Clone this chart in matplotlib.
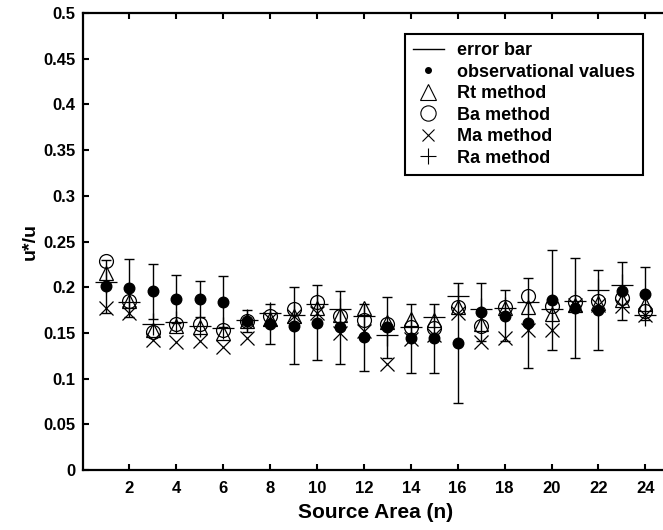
import numpy as np
import matplotlib
matplotlib.use("Agg")
import matplotlib.pyplot as plt
from matplotlib.lines import Line2D

plt.rcParams['font.family'] = ['Liberation Sans', 'DejaVu Sans']
plt.rcParams['font.weight'] = 'bold'

n = list(range(1, 25))
obs = [0.201, 0.199, 0.1955, 0.187, 0.187, 0.184, 0.163, 0.160, 0.158, 0.161, 0.156, 0.145,
       0.156, 0.144, 0.144, 0.139, 0.173, 0.169, 0.161, 0.186, 0.177, 0.175, 0.196, 0.193]
err = [0.029, 0.032, 0.030, 0.026, 0.020, 0.028, 0.012, 0.022, 0.042, 0.041, 0.040, 0.037,
       0.033, 0.038, 0.038, 0.066, 0.032, 0.028, 0.049, 0.055, 0.055, 0.044, 0.032, 0.029]
rt = [0.215, 0.185, 0.153, 0.158, 0.157, 0.150, 0.163, 0.165, 0.168, 0.177, 0.170, 0.177,
      0.162, 0.165, 0.164, 0.178, 0.160, 0.177, 0.178, 0.171, 0.180, 0.183, 0.186, 0.182]
ba = [0.229, 0.185, 0.151, 0.160, 0.160, 0.153, 0.163, 0.168, 0.176, 0.184, 0.168, 0.164,
      0.160, 0.156, 0.155, 0.178, 0.158, 0.178, 0.190, 0.179, 0.184, 0.185, 0.188, 0.174]
ma = [0.177, 0.172, 0.142, 0.140, 0.1415, 0.135, 0.144, 0.165, 0.168, 0.172, 0.150, 0.152,
      0.116, 0.143, 0.148, 0.172, 0.140, 0.144, 0.153, 0.153, 0.180, 0.180, 0.179, 0.170]
ra = [0.206, 0.184, 0.160, 0.1616, 0.158, 0.1557, 0.164, 0.1715, 0.170, 0.1816, 0.176, 0.168,
      0.1477, 0.156, 0.167, 0.190, 0.176, 0.177, 0.184, 0.176, 0.185, 0.197, 0.2024, 0.170]

xticks = [2, 4, 6, 8, 10, 12, 14, 16, 18, 20, 22, 24]
yticks = [0, 0.05, 0.1, 0.15, 0.2, 0.25, 0.3, 0.35, 0.4, 0.45, 0.5]
ytick_labels = ['0', '0.05', '0.1', '0.15', '0.2', '0.25', '0.3', '0.35', '0.4', '0.45', '0.5']

W, H = 663, 530
fig = plt.figure(figsize=(W / 100, H / 100), dpi=100)
left, right, top, bottom = 82.5, 668.8, 13, 470
ax = fig.add_axes([left / W, 1 - bottom / H, (right - left) / W, (bottom - top) / H])

ax.errorbar(n, obs, yerr=err, fmt='none', ecolor='black', elinewidth=1.0, capsize=3.8, capthick=1.0)
ax.plot(n, obs, linestyle='none', marker='o', markersize=7.6, color='black')
ax.plot(n, rt, linestyle='none', marker='^', markersize=10, markerfacecolor='none',
        markeredgecolor='black', markeredgewidth=0.9)
ax.plot(n, ba, linestyle='none', marker='o', markersize=10, markerfacecolor='none',
        markeredgecolor='black', markeredgewidth=0.9)
ax.plot(n, ma, linestyle='none', marker='x', markersize=10, color='black', markeredgewidth=0.9)
ax.plot(n, ra, linestyle='none', marker='+', markersize=16, color='black', markeredgewidth=0.9)

ax.set_xlim(0, 25)
ax.set_ylim(0, 0.5)
ax.set_xticks(xticks)
ax.set_yticks(yticks)
ax.set_yticklabels(ytick_labels)
ax.tick_params(direction='in', length=4, width=1.5, labelsize=12, top=True, right=True)
ax.tick_params(axis='x', pad=8)
ax.tick_params(axis='y', pad=5)
for lab in ax.get_xticklabels() + ax.get_yticklabels():
    lab.set_fontweight('bold')
for s in ax.spines.values():
    s.set_linewidth(1.6)

ax.set_xlabel('Source Area (n)', fontsize=15, fontweight='bold', labelpad=5)
ax.set_ylabel('u*/u', fontsize=14, fontweight='bold', labelpad=3)

handles = [
    Line2D([], [], color='black', lw=1.0),
    Line2D([], [], linestyle='none', marker='o', markersize=4, color='black'),
    Line2D([], [], linestyle='none', marker='^', markersize=12, markerfacecolor='none',
           markeredgecolor='black', markeredgewidth=0.8),
    Line2D([], [], linestyle='none', marker='o', markersize=11, markerfacecolor='none',
           markeredgecolor='black', markeredgewidth=0.8),
    Line2D([], [], linestyle='none', marker='x', markersize=9, color='black', markeredgewidth=0.8),
    Line2D([], [], linestyle='none', marker='+', markersize=12, color='black', markeredgewidth=0.8),
]
labels = ['error bar', 'observational values', 'Rt method', 'Ba method', 'Ma method', 'Ra method']
leg = fig.legend(handles, labels, loc='upper left', bbox_to_anchor=(405 / W, 1 - 34 / H),
                 frameon=True, fancybox=False, edgecolor='black', framealpha=1,
                 prop={'weight': 'bold', 'size': 13}, handlelength=1.7, handletextpad=0.75,
                 labelspacing=0.25, borderpad=0.45, borderaxespad=0)
leg.get_frame().set_linewidth(1.5)

fig.savefig('out.png', dpi=100)
